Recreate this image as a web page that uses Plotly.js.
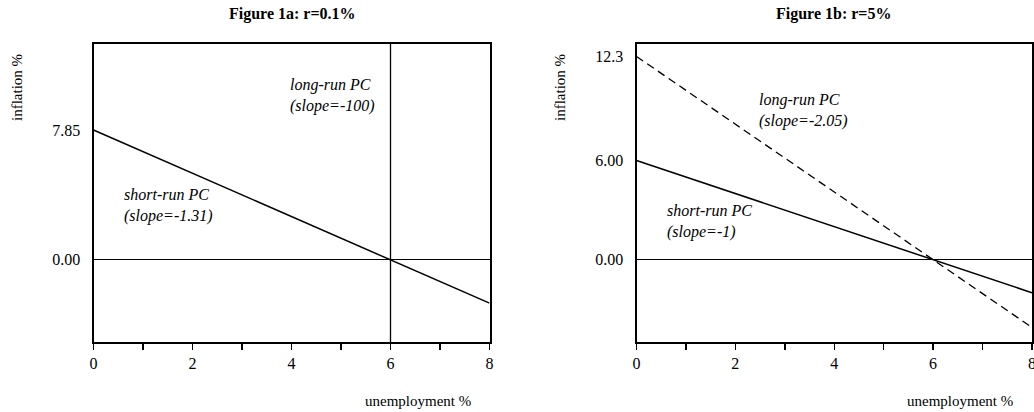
<!DOCTYPE html>
<html>
<head>
<meta charset="utf-8">
<script src="https://cdn.plot.ly/plotly-3.0.1.min.js"></script>
<style>html,body{margin:0;padding:0;background:#fff;}#chart{width:1034px;height:412px;}</style>
</head>
<body>
<div id="chart"></div>
<script>
// Data
const unemployment = [0, 8];
const shortRunA = [7.85, -2.63];      // Figure 1a short-run PC (slope -1.31)
const longRunAx = [6, 6];             // Figure 1a long-run PC (near vertical)
const longRunAy = [-20, 30];
const shortRunB = [6.00, -2.00];      // Figure 1b short-run PC (slope -1)
const longRunB = [12.3, -4.1];        // Figure 1b long-run PC (slope -2.05)

const xTickVals = [0, 1, 2, 3, 4, 5, 6, 7, 8];
const xTickText = ['0', '', '2', '', '4', '', '6', '', '8'];
const yTickValsA = [0, 7.85];
const yTickTextA = ['0.00', '7.85'];
const yTickValsB = [0, 6, 12.3];
const yTickTextB = ['0.00', '6.00', '12.3'];

const titles = ['Figure 1a: r=0.1%', 'Figure 1b: r=5%'];
const xTitle = 'unemployment %';
const yTitle = 'inflation %';

const W = 1034, H = 412;
const px = v => v / W;
const py = v => 1 - v / H;
const FONT = '"Liberation Serif", "Times New Roman", Times, serif';

const lineStyle = {color: '#000', width: 1.5};
const traces = [
  {x: unemployment, y: shortRunA, xaxis: 'x', yaxis: 'y', mode: 'lines', line: lineStyle, hoverinfo: 'skip'},
  {x: longRunAx, y: longRunAy, xaxis: 'x', yaxis: 'y', mode: 'lines', line: {color: '#000', width: 1.3}, hoverinfo: 'skip'},
  {x: unemployment, y: shortRunB, xaxis: 'x2', yaxis: 'y2', mode: 'lines', line: lineStyle, hoverinfo: 'skip'},
  {x: unemployment, y: longRunB, xaxis: 'x2', yaxis: 'y2', mode: 'lines', line: {color: '#000', width: 1.3, dash: '8px,5px'}, hoverinfo: 'skip'}
];

const yRange = [-4.98, 13.07];
const xAxisBase = {
  range: [0, 8], tickvals: xTickVals, ticktext: xTickText,
  ticks: 'outside', ticklen: 6, tickwidth: 1.5, tickcolor: '#000',
  showline: true, linewidth: 2, linecolor: '#000', mirror: true,
  showgrid: false, zeroline: false, fixedrange: true, ticklabeloverflow: 'allow',
  tickfont: {family: FONT, size: 16, color: '#000'}
};
const yAxisBase = {
  range: yRange, ticks: '', showline: true, linewidth: 2, linecolor: '#000', mirror: true,
  showgrid: false, zeroline: true, zerolinecolor: '#000', zerolinewidth: 1, fixedrange: true,
  tickfont: {family: FONT, size: 16, color: '#000'}, ticklabelstandoff: 8,
  domain: [py(342), py(43.7)]
};

function paperText(text, x, y, size, angle) {
  return {text: text, xref: 'paper', yref: 'paper', x: px(x), y: py(y), xanchor: 'center', yanchor: 'middle',
          textangle: angle || 0, showarrow: false, font: {family: FONT, size: size, color: '#000'}};
}
function plotText(text, xr, yr, x, y) {
  return {text: text, xref: xr, yref: yr, x: x, y: y, xanchor: 'left', yanchor: 'middle', align: 'left',
          showarrow: false, font: {family: FONT, size: 16, color: '#000'}};
}

const layout = {
  width: W, height: H,
  margin: {l: 0, r: 0, t: 0, b: 0},
  paper_bgcolor: '#fff', plot_bgcolor: '#fff',
  showlegend: false,
  xaxis: Object.assign({}, xAxisBase, {domain: [px(93.5), px(489.5)], anchor: 'y'}),
  yaxis: Object.assign({}, yAxisBase, {anchor: 'x', tickvals: yTickValsA, ticktext: yTickTextA}),
  xaxis2: Object.assign({}, xAxisBase, {domain: [px(636.5), px(1032)], anchor: 'y2'}),
  yaxis2: Object.assign({}, yAxisBase, {anchor: 'x2', tickvals: yTickValsB, ticktext: yTickTextB}),
  annotations: [
    paperText('<b>' + titles[0] + '</b>', 292, 14, 16),
    paperText('<b>' + titles[1] + '</b>', 833, 14, 16),
    paperText(yTitle, 17, 88, 15, -90),
    paperText(yTitle, 560, 88, 15, -90),
    paperText(xTitle, 418, 401, 15),
    paperText(xTitle, 960, 401, 15),
    plotText('<i>long-run PC<br>(slope=-100)</i>', 'x', 'y', 3.93, 9.92),
    plotText('<i>short-run PC<br>(slope=-1.31)</i>', 'x', 'y', 0.567, 3.28),
    plotText('<i>long-run PC<br>(slope=-2.05)</i>', 'x2', 'y2', 2.43, 9.0),
    plotText('<i>short-run PC<br>(slope=-1)</i>', 'x2', 'y2', 0.57, 2.29)
  ]
};

Plotly.newPlot('chart', traces, layout, {staticPlot: true, displayModeBar: false});
</script>
</body>
</html>
